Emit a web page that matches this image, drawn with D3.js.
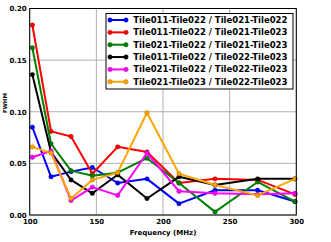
<!DOCTYPE html>
<html>
<head>
<meta charset="utf-8">
<script src="https://cdn.jsdelivr.net/npm/d3@7"></script>
<style>
  body { margin: 0; background: #fff; }
  text { font-family: "DejaVu Sans", sans-serif; font-weight: bold; }
</style>
</head>
<body>
<div id="chart"></div>
<script>
// ----------------------------------------------------------------------
// data

var frequencies = [102, 116, 131, 147, 166, 188, 212, 239, 271, 299];

var seriesNames = [
    "Tile011-Tile022 / Tile021-Tile022",
    "Tile011-Tile022 / Tile021-Tile023",
    "Tile021-Tile022 / Tile021-Tile023",
    "Tile011-Tile022 / Tile022-Tile023",
    "Tile021-Tile022 / Tile022-Tile023",
    "Tile021-Tile023 / Tile022-Tile023"
];

var seriesColors = ["#0000ff", "#ff0000", "#008000", "#000000", "#ff00ff", "#ffa500"];

var fwhm011_022_vs_021_022 = [0.085, 0.037, 0.042, 0.046, 0.031, 0.035, 0.011, 0.024, 0.024, 0.013];
var fwhm011_022_vs_021_023 = [0.184, 0.081, 0.076, 0.040, 0.066, 0.061, 0.031, 0.035, 0.034, 0.020];
var fwhm021_022_vs_021_023 = [0.162, 0.069, 0.043, 0.038, 0.041, 0.055, 0.031, 0.003, 0.032, 0.013];
var fwhm011_022_vs_022_023 = [0.136, 0.061, 0.034, 0.021, 0.039, 0.016, 0.037, 0.029, 0.035, 0.035];
var fwhm021_022_vs_022_023 = [0.056, 0.062, 0.014, 0.027, 0.019, 0.060, 0.023, 0.021, 0.020, 0.021];
var fwhm021_023_vs_022_023 = [0.066, 0.060, 0.016, 0.034, 0.041, 0.099, 0.040, 0.029, 0.019, 0.035];

var seriesValues = [
    fwhm011_022_vs_021_022,
    fwhm011_022_vs_021_023,
    fwhm021_022_vs_021_023,
    fwhm011_022_vs_022_023,
    fwhm021_022_vs_022_023,
    fwhm021_023_vs_022_023
];

var xTicks = [100, 150, 200, 250, 300];
var yTicks = [0.00, 0.05, 0.10, 0.15, 0.20];

// ----------------------------------------------------------------------

var width = 331, height = 242;
var margin = {left: 29.7, right: 34.7, top: 8.5, bottom: 27};

var svg = d3.select("#chart")
            .append("svg")
            .attr("width", width)
            .attr("height", height);

var x = d3.scaleLinear().domain([100, 300]).range([margin.left, width - margin.right]);
var y = d3.scaleLinear().domain([0, 0.20]).range([height - margin.bottom, margin.top]);

// grid
svg.append("g").selectAll("line")
    .data(xTicks).enter().append("line")
    .attr("x1", d => x(d)).attr("x2", d => x(d))
    .attr("y1", y(0)).attr("y2", y(0.20))
    .attr("stroke", "#b0b0b0").attr("stroke-width", 1);

svg.append("g").selectAll("line")
    .data(yTicks).enter().append("line")
    .attr("x1", x(100)).attr("x2", x(300))
    .attr("y1", d => y(d)).attr("y2", d => y(d))
    .attr("stroke", "#b0b0b0").attr("stroke-width", 1);

// axes (labels only, no tick marks)
var xAxis = d3.axisBottom(x).tickValues(xTicks).tickFormat(d3.format("d")).tickSize(0).tickPadding(4);
var yAxis = d3.axisLeft(y).tickValues(yTicks).tickFormat(d3.format(".2f")).tickSize(0).tickPadding(3);

var gx = svg.append("g").attr("transform", "translate(0," + y(0) + ")").call(xAxis);
var gy = svg.append("g").attr("transform", "translate(" + x(100) + ",0)").call(yAxis);

[gx, gy].forEach(function(g) {
    g.select(".domain").remove();
    g.selectAll("line").remove();
    g.selectAll("text").attr("font-size", 7).attr("fill", "#000")
        .style("font-family", "'DejaVu Sans', sans-serif").style("font-weight", "bold");
});

// lines
var line = d3.line()
    .x((d, i) => x(frequencies[i]))
    .y(d => y(d));

seriesValues.forEach(function(vals, k) {
    svg.append("path")
        .datum(vals)
        .attr("d", line)
        .attr("fill", "none")
        .attr("stroke", seriesColors[k])
        .attr("stroke-width", 2)
        .attr("stroke-linejoin", "round");

    svg.append("g").selectAll("circle")
        .data(vals).enter().append("circle")
        .attr("cx", (d, i) => x(frequencies[i]))
        .attr("cy", d => y(d))
        .attr("r", 2.2)
        .attr("fill", seriesColors[k])
        .attr("stroke", d3.color(seriesColors[k]).darker(1.2))
        .attr("stroke-width", 0.5);
});

// frame
svg.append("rect")
    .attr("x", x(100)).attr("y", y(0.20))
    .attr("width", x(300) - x(100)).attr("height", y(0) - y(0.20))
    .attr("fill", "none").attr("stroke", "#000").attr("stroke-width", 1);

// axis labels
svg.append("text")
    .attr("x", (x(100) + x(300)) / 2).attr("y", 234.5)
    .attr("text-anchor", "middle").attr("font-size", 7)
    .text("Frequency (MHz)");

svg.append("text")
    .attr("transform", "translate(7,103) rotate(-90)")
    .attr("text-anchor", "middle").attr("font-size", 5.5)
    .text("FWHM");

// legend
var legend = svg.append("g");
legend.append("rect")
    .attr("x", 106).attr("y", 13.5)
    .attr("width", 187).attr("height", 75.5)
    .attr("fill", "#fff").attr("stroke", "#000").attr("stroke-width", 1);

seriesNames.forEach(function(name, k) {
    var ly = 20 + k * 12.35;
    legend.append("line")
        .attr("x1", 110).attr("x2", 126).attr("y1", ly).attr("y2", ly)
        .attr("stroke", seriesColors[k]).attr("stroke-width", 2);
    legend.selectAll(null).data([110, 126]).enter().append("circle")
        .attr("cx", d => d).attr("cy", ly).attr("r", 2.2)
        .attr("fill", seriesColors[k])
        .attr("stroke", d3.color(seriesColors[k]).darker(1.2))
        .attr("stroke-width", 0.5);
    legend.append("text")
        .attr("x", 133.3).attr("y", ly + 3)
        .attr("font-size", 8.5)
        .text(name);
});
</script>
</body>
</html>
